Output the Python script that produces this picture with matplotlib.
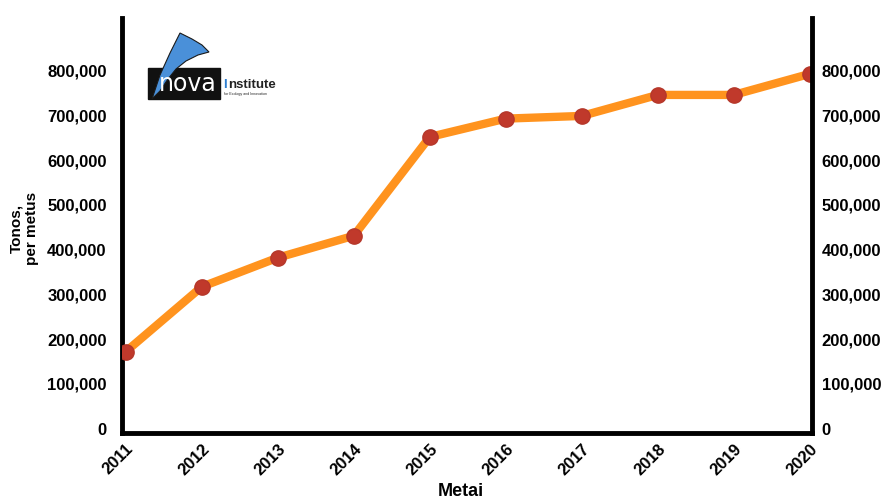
import matplotlib.pyplot as plt
from matplotlib.patches import Polygon, Rectangle
from matplotlib.ticker import FuncFormatter

years = [2011, 2012, 2013, 2014, 2015, 2016, 2017, 2018, 2019, 2020]
tonnes = [172000, 317000, 382000, 431000, 652000, 693000, 699000, 746000, 746000, 793000]
yticks = [0, 100000, 200000, 300000, 400000, 500000, 600000, 700000, 800000]

plt.rcParams['font.family'] = ['Liberation Sans', 'DejaVu Sans']
plt.rcParams['font.weight'] = 'bold'

fig = plt.figure(figsize=(8.84, 5.03), dpi=100)
ax = fig.add_axes([122/884, 1-433/503, (812-122)/884, (433-18)/503])

ax.plot(years, tonnes, color='#ff931e', lw=6, solid_capstyle='round', zorder=2)
ax.plot(years, tonnes, 'o', color='#c0392b', ms=11, mec='#b5372a', zorder=3)

ax.set_xlim(2010.95, 2020.03)
ax.set_ylim(-10000, 918000)
ax.set_xticks(years)
ax.set_xticklabels([str(y) for y in years], rotation=45, ha='right',
                   rotation_mode='anchor', fontsize=11.5, fontweight='bold')
fmt = FuncFormatter(lambda v, p: f'{int(v):,}')
ax.set_yticks(yticks)
ax.yaxis.set_major_formatter(fmt)
ax.tick_params(length=0, labelsize=12, pad=11)
ax.tick_params(axis='x', pad=6)
for s in ['left', 'bottom']:
    ax.spines[s].set_linewidth(3.5)
ax.spines['top'].set_visible(False)
ax.spines['right'].set_visible(False)

ax2 = ax.twinx()
ax2.set_ylim(ax.get_ylim())
ax2.set_yticks(yticks)
ax2.yaxis.set_major_formatter(fmt)
ax2.tick_params(length=0, labelsize=12, pad=7)
ax2.spines['right'].set_linewidth(3.5)
for s in ['left', 'top', 'bottom']:
    ax2.spines[s].set_visible(False)
for lab in ax.get_yticklabels() + ax2.get_yticklabels():
    lab.set_fontweight('bold')

fig.text(24/884, 1-228/503, 'Tonos,\nper metus', rotation=90, ha='center', va='center',
         fontsize=11, fontweight='bold', linespacing=1.1)
fig.text(461/884, 1-492/503, 'Metai', ha='center', va='center', fontsize=13, fontweight='bold')

# nova-Institute logo
lg = fig.add_axes([140/884, 1-105/503, 150/884, 80/503])
lg.set_xlim(0, 150)
lg.set_ylim(80, 0)
lg.axis('off')
lg.add_patch(Rectangle((8, 43), 72, 31, color='#111111'))
lg.add_patch(Polygon([(12, 74), (20, 50), (30, 28), (40, 8), (52, 14), (62, 20), (69, 27),
                      (58, 30), (46, 36), (36, 44), (28, 54), (20, 66)],
                     closed=True, fc='#4a90d9', ec='#1a1a1a', lw=0.8))
lg.text(48, 59, 'nova', color='white', fontsize=17, fontweight='normal',
        ha='center', va='center', family='DejaVu Sans')
lg.text(83, 60, 'I', color='#2f7fd0', fontsize=9.5, ha='left', va='center')
lg.text(88, 60, 'nstitute', color='#222222', fontsize=9.5, ha='left', va='center')
lg.text(84, 69, 'for Ecology and Innovation', color='#222222', fontsize=2.6,
        ha='left', va='center', fontweight='normal')

fig.savefig('out.png', dpi=100)
